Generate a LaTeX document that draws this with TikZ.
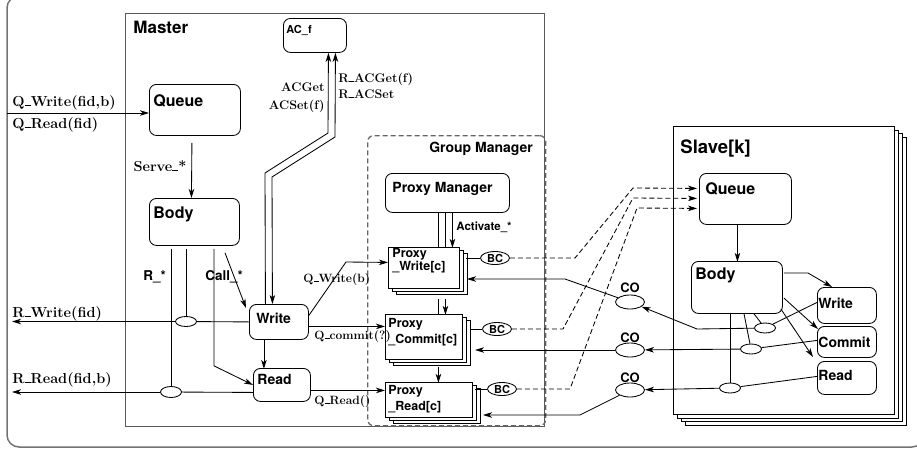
\documentclass[tikz,border=0pt]{standalone}
\usepackage{fontspec}
\setsansfont{TeX Gyre Heros}
\usepackage{tikz}
\usetikzlibrary{arrows.meta,shapes.geometric,shadows}
\newcommand{\usc}{\rule[-0.03em]{0.42em}{0.075em}}

\begin{document}
\begin{tikzpicture}[x=1pt,y=-1pt,>={Stealth[length=9pt,width=5.5pt,inset=2.5pt]},line width=0.85pt]

	\tikzstyle{frame}=[draw=black!65,line width=1.3pt]
	\tikzstyle{sheet}=[draw,anchor=north west,inner sep=0pt,fill=white]
	\tikzstyle{box}=[sheet,rounded corners=7pt]
	\tikzstyle{stack}=[copy shadow={shadow xshift=8pt,shadow yshift=-6pt,fill=white,draw=black},copy shadow={shadow xshift=4pt,shadow yshift=-3pt,fill=white,draw=black}]
	\tikzstyle{slavestack}=[copy shadow={shadow xshift=11.5pt,shadow yshift=-10.5pt,fill=white,draw=black},copy shadow={shadow xshift=8pt,shadow yshift=-7pt,fill=white,draw=black},copy shadow={shadow xshift=4pt,shadow yshift=-3.5pt,fill=white,draw=black}]
	\tikzstyle{tap}=[draw,ellipse,fill=white,inner sep=0pt,minimum width=21pt,minimum height=10pt]
	\tikzstyle{port}=[draw,ellipse,fill=white,inner sep=0pt,minimum width=29pt,minimum height=13pt,font=\sffamily\bfseries\fontsize{11}{12}\selectfont]
	\tikzstyle{title}=[anchor=base west,inner sep=0pt,font=\sffamily\bfseries\fontsize{17}{19}\selectfont]
	\tikzstyle{boxname}=[anchor=base west,inner sep=0pt,font=\sffamily\bfseries\fontsize{16}{18}\selectfont]
	\tikzstyle{small}=[font=\sffamily\bfseries\fontsize{14}{16}\selectfont]
	\tikzstyle{proxytext}=[anchor=north west,inner sep=0pt,align=left,font=\sffamily\bfseries\fontsize{12.5}{16}\selectfont]
	\tikzstyle{colabel}=[anchor=base,inner sep=0pt,font=\sffamily\bfseries\fontsize{13}{14}\selectfont]
	\tikzstyle{msg}=[anchor=base west,inner sep=0pt,font=\bfseries\fontsize{14.5}{16}\selectfont]
	\tikzstyle{smallmsg}=[anchor=base west,inner sep=0pt,font=\bfseries\fontsize{12}{13}\selectfont]
	\tikzstyle{bcast}=[dash pattern=on 5pt off 3pt]

	\useasboundingbox (0,0) rectangle (917,450);
	\draw[frame,draw=black!55,line width=1.5pt,rounded corners=12pt] (7,-4) rectangle (924,447);

	\node[sheet,frame,minimum width=419pt,minimum height=413pt] (master) at (125,13) {};
	\node[title] (mastertitle) at (133,33) {Master};

	\node[box,minimum width=63pt,minimum height=34pt] (acf) at (283,18) {};
	\node[boxname,font=\sffamily\bfseries\fontsize{11}{12}\selectfont] (acftext) at ([shift={(3,15)}]acf.north west) {AC\_f};
	\node[box,minimum width=91pt,minimum height=51pt] (mqueue) at (149,84) {};
	\node[boxname] (mqueuetext) at ([shift={(4,22)}]mqueue.north west) {Queue};
	\node[box,minimum width=90pt,minimum height=47pt] (mbody) at (149,198) {};
	\node[boxname] (mbodytext) at ([shift={(4,20)}]mbody.north west) {Body};
	\node[box,minimum width=59pt,minimum height=35pt] (mwrite) at (249,304) {};
	\node[boxname,small] (mwritetext) at ([shift={(7,19)}]mwrite.north west) {Write};
	\node[box,minimum width=57pt,minimum height=33pt] (mread) at (253,368) {};
	\node[boxname,small] (mreadtext) at ([shift={(4,16)}]mread.north west) {Read};

	\node[sheet,frame,bcast,draw=black!60,fill=none,rounded corners=6pt,minimum width=178pt,minimum height=290pt] (gm) at (367,135) {};
	\node[boxname,small,anchor=base east] (gmtext) at ([shift={(-13,17)}]gm.north east) {Group Manager};
	\node[box,minimum width=124pt,minimum height=39pt] (pmgr) at (385,173) {};
	\node[boxname,small] (pmgrtext) at ([shift={(7,19)}]pmgr.north west) {Proxy Manager};

	\node[sheet,stack,minimum width=71pt,minimum height=41pt] (pwrite) at (388,247) {};
	\node[proxytext] (pwritetext) at ([shift={(4,1)}]pwrite.north west) {Proxy\\[-3pt]\_Write[c]};
	\node[sheet,stack,minimum width=77pt,minimum height=45pt] (pcommit) at (385,314) {};
	\node[proxytext] (pcommittext) at ([shift={(3,4)}]pcommit.north west) {Proxy\\\_Commit[c]};
	\node[sheet,stack,minimum width=87pt,minimum height=35pt] (pread) at (385,382) {};
	\node[proxytext] (preadtext) at ([shift={(3,3)}]pread.north west) {Proxy\\\_Read[c]};

	\node[port] (bcwrite) at (495,258) {BC};
	\node[port] (bccommit) at (497,329) {BC};
	\node[port] (bcread) at (502,389) {BC};

	\node[sheet,slavestack,minimum width=221pt,minimum height=288pt] (slave) at (673,126) {};
	\node[title,font=\sffamily\bfseries\fontsize{18.5}{20}\selectfont] (slavetitle) at (680,153) {Slave[k]};
	\node[box,minimum width=92pt,minimum height=51pt] (squeue) at (699,173) {};
	\node[boxname] (squeuetext) at ([shift={(6,21)}]squeue.north west) {Queue};
	\node[box,minimum width=91pt,minimum height=52pt] (sbody) at (691,261) {};
	\node[boxname] (sbodytext) at ([shift={(4,18)}]sbody.north west) {Body};
	\node[box,minimum width=59pt,minimum height=36pt] (swrite) at (817,287) {};
	\node[boxname,small] (swritetext) at ([shift={(1,21)}]swrite.north west) {Write};
	\node[box,minimum width=59pt,minimum height=31pt] (scommit) at (817,326) {};
	\node[boxname,small] (scommittext) at ([shift={(1,21)}]scommit.north west) {Commit};
	\node[box,minimum width=59pt,minimum height=33pt] (sread) at (817,361) {};
	\node[boxname,small] (sreadtext) at ([shift={(1,19)}]sread.north west) {Read};

	\node[port,minimum height=14pt] (cowrite) at (630,302) {};
	\node[colabel] (cowritetext) at (630,292) {CO};
	\node[port,minimum height=14pt] (cocommit) at (630,350) {};
	\node[colabel] (cocommittext) at (630,342) {CO};
	\node[port,minimum height=14pt] (coread) at (630,390) {};
	\node[colabel] (coreadtext) at (630,382) {CO};

	\node[tap] (mtapw) at (186,321.5) {};
	\node[tap,minimum height=11pt] (mtapr) at (171,392) {};
	\node[tap] (stapw) at (765,328) {};
	\node[tap] (stapc) at (751,349) {};
	\node[tap] (stapr) at (730,388) {};

	\coordinate (qin) at (7,113);
	\coordinate (rwout) at (12,321.5);
	\coordinate (rrout) at (12,392);

	\draw[->] (qin) -- (qin -| mqueue.west);
	\draw[->] ([shift={(-3,7)}]mqueue.south) -- ([shift={(-3,0)}]mbody.north);
	\draw (mbody.south west) ++(22,3) -- (mtapr);
	\draw (mbody.south west) ++(37,3) -- (mtapw);
	\draw[->] (mbody.south west) ++(65,3) -- ++(0,117) -- (mread.west);
	\draw[->] (mbody.south west) ++(76,7) -- ([shift={(-3,4)}]mwrite.north west);
	\draw (mwrite.west) -- (mtapw);
	\draw[->] (mtapw) -- (rwout);
	\draw ([shift={(0,7.5)}]mread.west) -- (mtapr);
	\draw[->] (mtapr) -- (rrout);
	\draw[->] ([shift={(-15,0)}]mwrite.south) -- ++(0,29);

	\draw[->] ([shift={(-13.5,0)}]mwrite.north) -- (265,173) -- (328,133) -- ([shift={(13.5,0)}]acf.south);
	\draw[<->] ([shift={(-6.5,0)}]mwrite.north) -- (272,177) -- (335,137) -- ([shift={(20.5,0)}]acf.south);

	\draw[->] ([shift={(0,-6.5)}]mwrite.east) -- (346,262) -- ([shift={(0,-5.5)}]pwrite.west);
	\draw[->] ([shift={(0,4.5)}]mwrite.east) coordinate (qc) -- (qc -| pcommit.west);
	\draw[->] ([shift={(0,5.5)}]mread.east) coordinate (qr) -- (qr -| pread.west);

	\draw ([shift={(-9,0)}]pmgr.south) -- ++(0,35);
	\draw ([shift={(-2,0)}]pmgr.south) -- ++(0,35);
	\draw[->] ([shift={(5,0)}]pmgr.south) -- ++(0,35);
	\draw ([shift={(14.5,10)}]pwrite.south) -- ++(0,16);
	\draw[->] ([shift={(21.5,10)}]pwrite.south) -- ++(0,16);
	\draw[->] ([shift={(14.5,7)}]pcommit.south) -- ++(0,16);

	\draw (bcwrite.west) -- ++(-14,0);
	\draw (bccommit.west) -- ++(-11,0);
	\draw (bcread.west) -- ++(-12,0);
	\draw[bcast,->] (bcwrite.east) -- (575,258) -- (633,188) -- ([shift={(-2,-10.5)}]squeue.west);
	\draw[bcast,->] (bccommit.east) -- (563,329) -- (633,198) -- ([shift={(-2,-0.5)}]squeue.west);
	\draw[bcast,->] (bcread.east) -- (570,389) -- (637,208) -- ([shift={(-2,9.5)}]squeue.west);

	\draw[->] ([shift={(-8,0)}]squeue.south) -- ++(0,37);
	\draw[->] ([shift={(1,12)}]sbody.north east) -- (808,273) -- ([shift={(15,0)}]swrite.north west);
	\draw[->] ([shift={(1,37)}]sbody.north east) -- ([shift={(1,3)}]scommit.north west);
	\draw[->] ([shift={(-2,48)}]sbody.north east) -- ([shift={(-4,-4)}]sread.north west);
	\draw (sbody.south west) ++(39,0) -- (stapr);
	\draw (sbody.south west) ++(53,0) -- (stapc);
	\draw (sbody.south west) ++(63,0) -- (stapw);
	\draw (stapw) -- ([shift={(0,-3)}]swrite.west);
	\draw (stapc) -- ([shift={(0,-1.5)}]scommit.west);
	\draw (stapr) -- ([shift={(0,-1.5)}]sread.west);

	\draw[->] (stapw) -- (697,329) -- (cowrite);
	\draw[->] (stapc) -- (cocommit);
	\draw[->] (stapr) -- (coread);
	\draw[->] (cowrite) -- (565,279) -- ++(-98,0);
	\draw[->] (cocommit.west) -- ++(-140,0);
	\draw[->] (coread) -- (580,415) -- ++(-97,0);

	\node[msg] (qwritein) at (12,106) {Q\usc Write(fid,b)};
	\node[msg] (qreadin) at (12,128) {Q\usc Read(fid)};
	\node[msg,anchor=base east] (serve) at (187,171) {Serve\usc *};
	\node[msg] (rwriteout) at (12,317) {R\usc Write(fid)};
	\node[msg] (rreadout) at (12,383) {R\usc Read(fid,b)};
	\node[boxname,small,font=\sffamily\bfseries\fontsize{13.5}{15}\selectfont] (rstar) at (143,280) {R\_*};
	\node[boxname,small,font=\sffamily\bfseries\fontsize{13.5}{15}\selectfont] (callstar) at (205,280) {Call\_*};
	\node[msg,font=\bfseries\fontsize{12.5}{13}\selectfont,anchor=base east] (acget) at (325,91) {ACGet};
	\node[msg,font=\bfseries\fontsize{12.5}{13}\selectfont,anchor=base east] (acset) at (325,109) {ACSet(f)};
	\node[msg,font=\bfseries\fontsize{12.5}{13}\selectfont] (racget) at (338,82) {R\usc ACGet(f)};
	\node[msg,font=\bfseries\fontsize{12.5}{13}\selectfont] (racset) at (338,98) {R\usc ACSet};
	\node[smallmsg] (qwriteb) at (303,282) {Q\usc Write(b)};
	\node[smallmsg] (qcommit) at (314,339) {Q\usc commit(?)};
	\node[smallmsg] (qreadp) at (314,404) {Q\usc Read()};
	\node[boxname,font=\sffamily\bfseries\fontsize{11.5}{13}\selectfont] (activate) at (456,230) {Activate\_*};

\end{tikzpicture}
\end{document}
